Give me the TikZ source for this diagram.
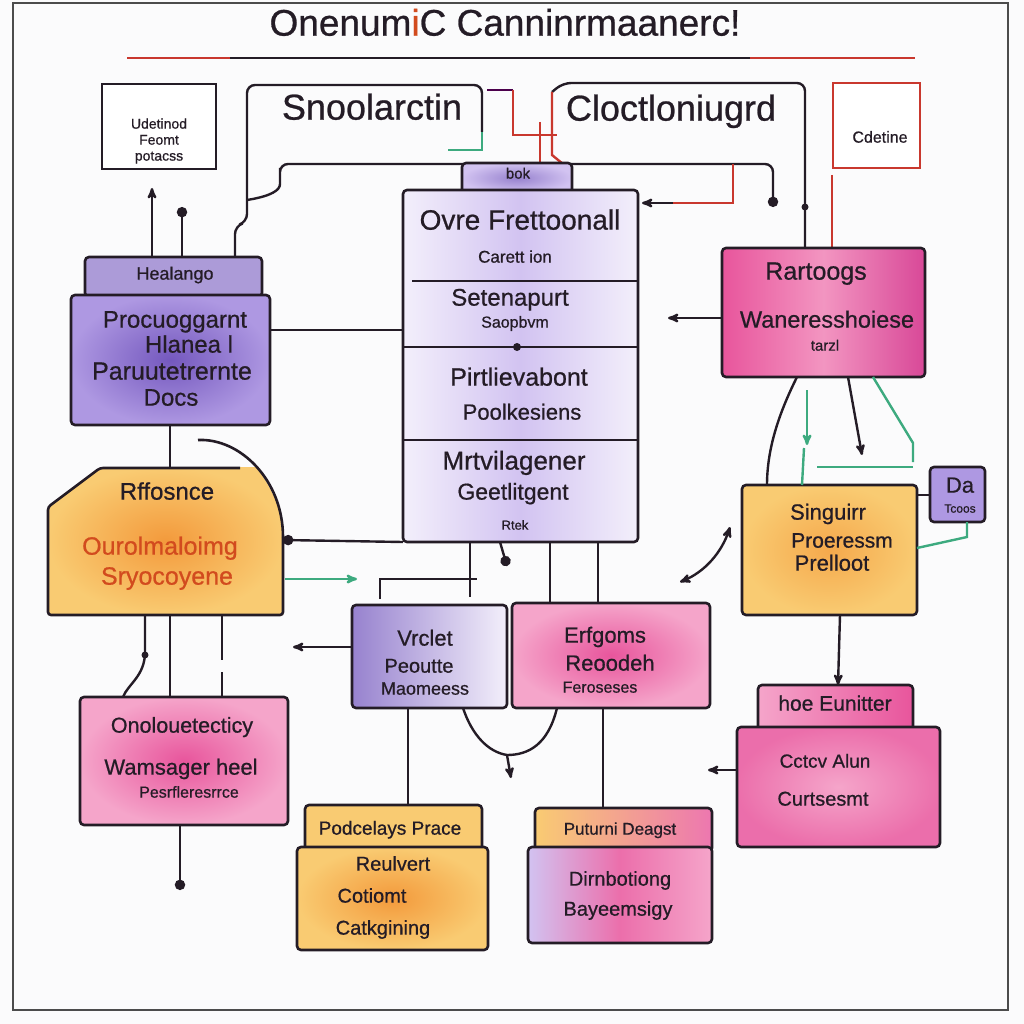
\documentclass[tikz,border=0pt]{standalone}
\usepackage{fontspec}
\setmainfont{Liberation Sans}[FakeBold=0.7]
\usetikzlibrary{arrows}
\definecolor{ink}{HTML}{241C26}
\definecolor{redl}{HTML}{C9382E}
\definecolor{grn}{HTML}{3DAA7F}
\definecolor{vioA}{HTML}{7458BE}
\definecolor{vioB}{HTML}{AE98E2}
\definecolor{vioC}{HTML}{D2C3F1}
\definecolor{vioD}{HTML}{F3EFFB}
\definecolor{pnkA}{HTML}{E8559C}
\definecolor{pnkB}{HTML}{F5A5CA}
\definecolor{orgA}{HTML}{F39A3C}
\definecolor{orgB}{HTML}{F9CB72}
\definecolor{orgT}{HTML}{D24B1E}
\definecolor{paper}{HTML}{FBFBFC}
\newcommand{\fsz}[1]{\fontsize{#1}{#1}\selectfont}

\begin{document}
\begin{tikzpicture}[x=1pt,y=-1pt,>=stealth',line width=2.4pt,color=ink,
                    every node/.style={inner sep=0pt,outer sep=0pt}]
  \tikzstyle{lbl}=[anchor=mid,text=ink]
  \tikzstyle{box}=[draw=ink,rectangle,rounded corners=4pt,line width=2.6pt]
  \tikzstyle{plainbox}=[draw=ink,rectangle,line width=2.2pt,fill=white]
  \tikzstyle{violetbox}=[box,inner color=vioA,outer color=vioB]
  \tikzstyle{lilacbox}=[box,left color=vioD,right color=vioD,middle color=vioC]
  \tikzstyle{pinkbox}=[box,inner color=pnkA,outer color=pnkB]
  \tikzstyle{orangebox}=[box,inner color=orgA,outer color=orgB]

  \useasboundingbox (0,0) rectangle (1024,1024);
  \fill[paper] (0,0) rectangle (1024,1024);
  \draw[black!70,line width=2.2pt] (13,3) rectangle (1008,1010);

  % title
  \node[lbl,font=\fsz{37}] (title) at (505,33) {Onenum{\color{orgT}i}C Canninrmaanerc!};
  \draw[redl] (127,58) -- (915,58);
  \draw (230,58) -- (750,58);

  % top row
  \node[plainbox,minimum width=114pt,minimum height=85pt] (udet) at (159,126.5) {};
  \node[anchor=center,align=center,text=ink,font=\fontsize{14}{16}\selectfont] (udetT) at (159,141) {Udetinod\\Feomt\\potacss};
  \node[plainbox,draw=redl,minimum width=87pt,minimum height=85pt] (cdet) at (876.5,125.5) {};
  \node[lbl,font=\fsz{16}] (cdetT) at (880,140) {Cdetine};
  \node[lbl,font=\fsz{36}] (snoo) at (372,117) {Snoolarctin};
  \node[lbl,font=\fsz{36}] (cloc) at (671,118) {Cloctloniugrd};

  % frames round the two headings
  \draw[rounded corners=8pt] (235,257) -- (235,226) -- (247,222) -- (247,85) -- (482,85) -- (482,132);
  \draw[grn] (482,132) -- (482,150) -- (448,150);
  \draw[-*,rounded corners=8pt] (247,200) .. controls (272,196) and (280,190) .. (280,176) -- (280,164) -- (773,164) -- (773,207);
  \draw[rounded corners=8pt] (805,248) -- (805,83) -- (563,83) -- (552,92);
  \draw[redl] (552,92) -- (552,155) -- (563,164);
  \fill (805,207) circle (3.5);
  \draw[violet!60!black] (487,90) -- (513,90);
  \draw[redl] (513,90) -- (513,135) -- (557,135);
  \draw[redl] (540,122) -- (540,163);
  \draw[redl] (733,164) -- (733,203) -- (673,203);
  \draw[redl] (832,175) -- (832,248);

  % centre stack
  \node[box,inner color=vioA!75,outer color=vioC,minimum width=110pt,minimum height=30pt] (bok) at (517,178) {};
  \node[lilacbox,minimum width=235pt,minimum height=352pt] (cent) at (520.5,366) {};
  \node[lbl,font=\fsz{15}] (bokT) at (518,176) {bok};
  \draw (412,281) -- (637,281);
  \draw (cent.west |- 0,347) -- (cent.east |- 0,347);
  \draw (cent.west |- 0,440) -- (cent.east |- 0,440);
  \fill (517,347) circle (4);
  \node[lbl,font=\fsz{28}] (c1) at (520,227) {Ovre Frettoonall};
  \node[lbl,font=\fsz{17}] (c2) at (515,260) {Carett ion};
  \node[lbl,font=\fsz{24}] (c3) at (510,303) {Setenapurt};
  \node[lbl,font=\fsz{16}] (c4) at (515,325) {Saopbvm};
  \node[lbl,font=\fsz{25}] (c5) at (519,383) {Pirtlievabont};
  \node[lbl,font=\fsz{22}] (c6) at (522,417) {Poolkesiens};
  \node[lbl,font=\fsz{26}] (c7) at (514,467) {Mrtvilagener};
  \node[lbl,font=\fsz{23}] (c8) at (513,497) {Geetlitgent};
  \node[lbl,font=\fsz{13}] (c9) at (515,527) {Rtek};

  % left column
  \node[box,fill=vioA!60,minimum width=177pt,minimum height=40pt] (healtab) at (173.5,277) {};
  \node[violetbox,minimum width=199pt,minimum height=130pt] (heal) at (170.5,360) {};
  \node[lbl,font=\fsz{18}] (h0) at (175,277) {Healango};
  \node[lbl,font=\fsz{24}] (h1) at (175,325) {Procuoggarnt};
  \node[lbl,font=\fsz{24}] (h2) at (189,350) {Hlanea l};
  \node[lbl,font=\fsz{25}] (h3) at (172,377) {Paruutetrernte};
  \node[lbl,font=\fsz{24}] (h4) at (171,403) {Docs};
  \draw[->] (healtab.north -| 152,0) -- (152,188);
  \draw[-*] (healtab.north -| 182,0) -- (182,207);
  \draw (heal.east |- 0,330) -- (cent.west |- 0,330);

  \shade[inner color=orgA,outer color=orgB] (48,615) -- (48,507) -- (100,468) -- (257,467)
     .. controls (272,490) and (283,510) .. (283,537) -- (283,615) -- cycle;
  \draw[line width=2.6pt,rounded corners=3pt] (240,468) -- (100,468) -- (48,507) -- (48,615) -- (283,615) -- (283,537);
  \draw[line width=2.6pt] (198,440) .. controls (240,438) and (283,480) .. (283,537);
  \coordinate (rffN) at (170,468);
  \coordinate (rffE) at (283,540);
  \coordinate (rffS) at (170,615);
  \node[lbl,font=\fsz{24}] (r1) at (167,497) {Rffosnce};
  \node[lbl,font=\fsz{25},text=orgT] (r2) at (160,552) {Ourolmaloimg};
  \node[lbl,font=\fsz{25},text=orgT] (r3) at (167,582) {Sryocoyene};
  \draw (heal.south -| rffN) -- (rffN);
  \draw[*-] (rffE) -- (cent.south west);
  \draw[->,grn] (285,579) -- (357,579);

  \node[pinkbox,minimum width=208pt,minimum height=128pt] (onol) at (184,761) {};
  \node[lbl,font=\fsz{21.5}] (o1) at (182,730) {Onolouetecticy};
  \node[lbl,font=\fsz{22}] (o2) at (181,772) {Wamsager heel};
  \node[lbl,font=\fsz{16}] (o3) at (189,795) {Pesrfleresrrce};
  \draw (rffS -| 145,0) -- (145,652) .. controls (145,676) and (128,684) .. (onol.north -| 123,0);
  \fill (145,655) circle (3.5);
  \draw (rffS) -- (onol.north -| rffS);
  \draw (rffS -| 222,0) -- (222,660);
  \draw (222,672) -- (onol.north -| 222,0);
  \draw[-*] (onol.south -| 180,0) -- (180,890);

  % middle row
  \node[box,left color=vioA!75,right color=vioD,minimum width=155pt,minimum height=103pt] (viol) at (429.5,656.5) {};
  \node[lbl,font=\fsz{22}] (v1) at (425,643) {Vrclet};
  \node[lbl,font=\fsz{20}] (v2) at (419,670) {Peoutte};
  \node[lbl,font=\fsz{18}] (v3) at (425,692) {Maomeess};
  \node[pinkbox,minimum width=198pt,minimum height=105pt] (erf) at (611,655.5) {};
  \node[lbl,font=\fsz{22}] (e1) at (605,640) {Erfgoms};
  \node[lbl,font=\fsz{22}] (e2) at (610,668) {Reoodeh};
  \node[lbl,font=\fsz{16}] (e3) at (600,690) {Feroseses};
  \draw (cent.south -| 470,0) -- (470,597);
  \draw (380,599) -- (380,579) -- (477,579);
  \draw[-*] (cent.south -| 500,0) -- (507,566);
  \draw (cent.south -| 550,0) -- (erf.north -| 550,0);
  \draw (cent.south -| 598,0) -- (erf.north -| 598,0);
  \draw[->] (viol.west |- 0,647) -- (293,647);
  \coordinate (mrg) at (507,755);
  \draw (viol.south -| 463,0) .. controls (472,735) and (488,752) .. (mrg);
  \draw (erf.south -| 557,0) .. controls (548,745) and (528,755) .. (mrg);
  \draw[->] (mrg) -- (511,778);

  % bottom row
  \node[box,fill=orgB,minimum width=177pt,minimum height=46pt] (podctab) at (393.5,828) {};
  \node[orangebox,minimum width=191pt,minimum height=103pt] (podc) at (392.5,898.5) {};
  \node[lbl,font=\fsz{19}] (p1) at (390,832) {Podcelays Prace};
  \node[lbl,font=\fsz{20}] (p2) at (393,868) {Reulvert};
  \node[lbl,font=\fsz{20}] (p3) at (372,900) {Cotiomt};
  \node[lbl,font=\fsz{20}] (p4) at (383,932) {Catkgining};
  \draw (viol.south -| 408,0) -- (podctab.north -| 408,0);

  \node[box,left color=orgB,right color=pnkA!80,minimum width=177pt,minimum height=44pt] (pututab) at (623.5,830) {};
  \node[box,left color=vioC,right color=pnkB,middle color=pnkA!85,minimum width=184pt,minimum height=96pt] (putu) at (620,895) {};
  \node[lbl,font=\fsz{17}] (u1) at (620,832) {Puturni Deagst};
  \node[lbl,font=\fsz{20}] (u2) at (620,883) {Dirnbotiong};
  \node[lbl,font=\fsz{20}] (u3) at (618,913) {Bayeemsigy};
  \draw (erf.south -| 603,0) -- (pututab.north -| 603,0);

  % right column
  \node[box,left color=pnkA,right color=pnkA!85!violet,middle color=pnkB!80!pnkA,minimum width=203pt,minimum height=129pt] (raat) at (823.5,312.5) {};
  \node[lbl,font=\fsz{25}] (a1) at (816,277) {Rartoogs};
  \node[lbl,font=\fsz{23.5}] (a2) at (827,325) {Waneresshoiese};
  \node[lbl,font=\fsz{15}] (a3) at (825,348) {tarzl};
  \draw[->] (673,203) -- ([xshift=4pt]cent.east |- 0,203);
  \draw[->] (raat.west |- 0,318) -- (668,318);

  \node[box,inner color=orgA!70!orgB,outer color=orgB,minimum width=175pt,minimum height=130pt] (sing) at (829.5,550) {};
  \node[lbl,font=\fsz{22}] (s1) at (828,517) {Singuirr};
  \node[lbl,font=\fsz{21}] (s2) at (842,545) {Proeressm};
  \node[lbl,font=\fsz{22}] (s3) at (832,568) {Prelloot};
  \draw (raat.south -| 797,0) .. controls (778,415) and (767,450) .. (sing.north -| 767,0);
  \draw[->] (raat.south -| 848,0) -- (862,455);
  \draw[grn] (raat.south -| 873,0) -- (913,443) -- (913,462);
  \draw[grn] (913,467) -- (817,467);
  \draw[grn,->] (807,390) -- (807,445);
  \draw[grn] (804,448) -- (sing.north -| 802,0);
  \draw[<->] (730,527) .. controls (722,552) and (705,572) .. (680,582);

  \node[box,fill=vioB,minimum width=55pt,minimum height=55pt] (da) at (957.5,494.5) {};
  \node[lbl,font=\fsz{22}] (d1) at (960,490) {Da};
  \node[lbl,font=\fsz{12}] (d2) at (960,510) {Tcoos};
  \draw (sing.east |- 0,495) -- (da.west |- 0,495);
  \draw[grn] (da.south -| 967,0) -- (967,537) -- (sing.east |- 0,548);

  \node[box,left color=pnkB,right color=pnkA,minimum width=155pt,minimum height=46pt] (hoetab) at (835.5,708) {};
  \node[box,inner color=pnkB,outer color=pnkA!85,minimum width=203pt,minimum height=120pt] (hoe) at (838.5,787) {};
  \node[lbl,font=\fsz{21}] (k1) at (835,708) {hoe Eunitter};
  \node[lbl,font=\fsz{19}] (k2) at (825,765) {Cctcv Alun};
  \node[lbl,font=\fsz{20}] (k3) at (823,803) {Curtsesmt};
  \draw[->] (sing.south -| 840,0) -- (hoetab.north -| 838,0);
  \draw[->] (hoe.west |- 0,770) -- (708,770);
\end{tikzpicture}
\end{document}
